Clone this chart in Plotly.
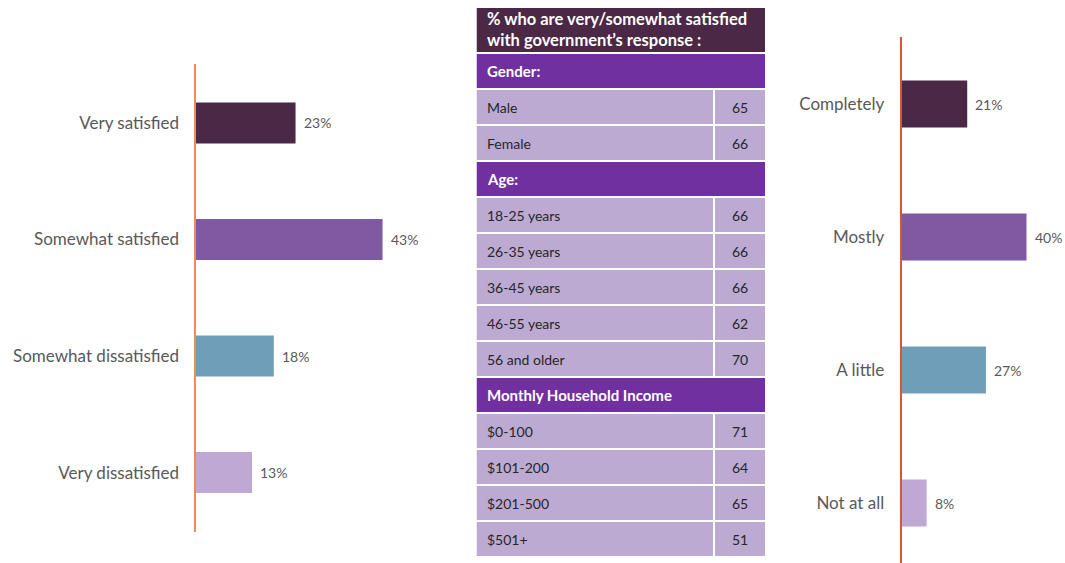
import plotly.graph_objects as go

# Satisfaction with the government's response
sat_labels = ["Very satisfied", "Somewhat satisfied", "Somewhat dissatisfied", "Very dissatisfied"]
sat_values = [23, 43, 18, 13]

# Trust ratings
trust_labels = ["Completely", "Mostly", "A little", "Not at all"]
trust_values = [21, 40, 27, 8]

# Breakdown table: % very/somewhat satisfied
table_title = "% who are very/somewhat satisfied<br>with government\u2019s response :"
table_rows = ["Gender:", "Male", "Female", "Age:", "18-25 years", "26-35 years",
              "36-45 years", "46-55 years", "56 and older", "Monthly Household Income",
              "$0-100", "$101-200", "$201-500", "$501+"]
table_values = [None, 65, 66, None, 66, 66, 66, 62, 70, None, 71, 64, 65, 51]

bar_colors = ["#4b2846", "#7f5aa2", "#6f9fb8", "#bfa9d4"]
TITLE_FILL = "#4b2846"
HEAD_FILL = "#7030a0"
CELL_FILL = "#bcaad3"
TEXT_GREY = "#595959"
FONT = "Lato, 'Open Sans', sans-serif"

W, H = 1065, 563


def fx(px):
    return px / W


def fy(px):
    return 1 - px / H


fig = go.Figure()

# Left bar chart
fig.add_trace(go.Bar(
    x=sat_values, y=list(range(len(sat_labels))), orientation="h",
    marker=dict(color=bar_colors, line=dict(width=0)), width=0.352,
    xaxis="x", yaxis="y", hoverinfo="skip", showlegend=False,
))
for i, v in enumerate(sat_values):
    fig.add_annotation(x=v, y=i, xref="x", yref="y", text=f"{v}%", showarrow=False,
                       xanchor="left", xshift=6,
                       font=dict(family=FONT, size=14, color=TEXT_GREY))

# Right bar chart
fig.add_trace(go.Bar(
    x=trust_values, y=list(range(len(trust_labels))), orientation="h",
    marker=dict(color=bar_colors, line=dict(width=0)), width=0.353,
    xaxis="x2", yaxis="y2", hoverinfo="skip", showlegend=False,
))
for i, v in enumerate(trust_values):
    fig.add_annotation(x=v, y=i, xref="x2", yref="y2", text=f"{v}%", showarrow=False,
                       xanchor="left", xshift=6,
                       font=dict(family=FONT, size=14, color=TEXT_GREY))

# Table drawn as bar cells on its own axes (x in px units across the table width)
LABEL_W = 236.5
VALUE_X0 = 238.5
TABLE_W = 288.5
row_h = 34 / 36

bases, widths, ys, heights, fills = [], [], [], [], []
# title block
bases.append(0); widths.append(TABLE_W); ys.append(-1.14); heights.append(44 / 36); fills.append(TITLE_FILL)
for k, (lab, val) in enumerate(zip(table_rows, table_values)):
    if val is None:
        bases.append(0); widths.append(TABLE_W); ys.append(k); heights.append(row_h); fills.append(HEAD_FILL)
    else:
        bases.append(0); widths.append(LABEL_W); ys.append(k); heights.append(row_h); fills.append(CELL_FILL)
        bases.append(VALUE_X0); widths.append(TABLE_W - VALUE_X0); ys.append(k); heights.append(row_h); fills.append(CELL_FILL)

fig.add_trace(go.Bar(
    x=widths, base=bases, y=ys, width=heights, orientation="h",
    marker=dict(color=fills, line=dict(width=0)),
    xaxis="x3", yaxis="y3", hoverinfo="skip", showlegend=False,
))

fig.add_annotation(x=8, y=-1.14, xref="x3", yref="y3", text=f"<b>{table_title}</b>",
                   showarrow=False, xanchor="left", align="left",
                   font=dict(family=FONT, size=16.5, color="white"))
for k, (lab, val) in enumerate(zip(table_rows, table_values)):
    if val is None:
        fig.add_annotation(x=8, y=k, xref="x3", yref="y3", text=f"<b>{lab}</b>",
                           showarrow=False, xanchor="left",
                           font=dict(family=FONT, size=15, color="white"))
    else:
        fig.add_annotation(x=8, y=k, xref="x3", yref="y3", text=lab,
                           showarrow=False, xanchor="left",
                           font=dict(family=FONT, size=14, color="#262626"))
        fig.add_annotation(x=(VALUE_X0 + TABLE_W) / 2, y=k, xref="x3", yref="y3", text=str(val),
                           showarrow=False, xanchor="center",
                           font=dict(family=FONT, size=14, color="#262626"))

left_px = 195.5
right_px = 901.7

fig.update_layout(
    width=W, height=H,
    margin=dict(l=0, r=0, t=0, b=0),
    paper_bgcolor="white", plot_bgcolor="rgba(0,0,0,0)",
    barmode="overlay",
    font=dict(family=FONT),
    xaxis=dict(domain=[fx(left_px), fx(left_px + 4.35 * 50)], range=[0, 50],
               visible=False, fixedrange=True),
    yaxis=dict(domain=[fy(532), fy(64)], range=[3.51, -0.506],
               tickvals=list(range(len(sat_labels))), ticktext=sat_labels,
               ticks="outside", ticklen=11, tickcolor="rgba(0,0,0,0)",
               showline=True, linecolor="#ee8a62", linewidth=2,
               showgrid=False, zeroline=False,
               tickfont=dict(family=FONT, size=17, color=TEXT_GREY)),
    xaxis2=dict(domain=[fx(right_px), 1], range=[0, (W - right_px) / 3.12],
                visible=False, fixedrange=True),
    yaxis2=dict(anchor="x2", domain=[0, fy(37)], range=[3.451, -0.504],
                tickvals=list(range(len(trust_labels))), ticktext=trust_labels,
                ticks="outside", ticklen=12, tickcolor="rgba(0,0,0,0)",
                showline=True, linecolor="#e0532f", linewidth=2,
                showgrid=False, zeroline=False,
                tickfont=dict(family=FONT, size=17, color=TEXT_GREY)),
    xaxis3=dict(anchor="y3", domain=[fx(476.5), fx(476.5 + TABLE_W)], range=[0, TABLE_W],
                visible=False, fixedrange=True),
    yaxis3=dict(anchor="x3", domain=[fy(557), fy(8)], range=[13.5, -1.75],
                visible=False, fixedrange=True),
)

fig.write_html("out.html")
